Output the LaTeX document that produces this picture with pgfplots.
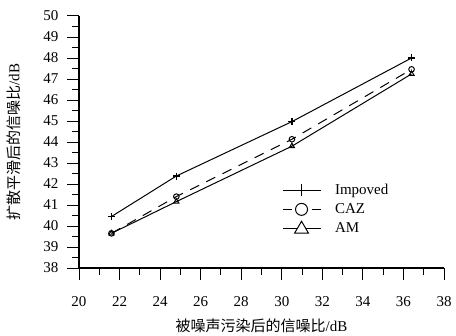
\documentclass[border=0pt]{standalone}
\usepackage{fontspec}
\setmainfont{Liberation Serif}
\newfontfamily\cjk{Noto Sans CJK SC}
\usepackage{pgfplots}
\pgfplotsset{compat=1.18}
\begin{document}
\begin{tikzpicture}
\path[use as bounding box] (-79bp,-68bp) rectangle (377bp,268bp);
\begin{axis}[
  at={(0,0)}, anchor=south west,
  scale only axis, width=365bp, height=252bp,
  xmin=20, xmax=38, ymin=38, ymax=50,
  axis lines*=left,
  axis line style={line width=1.2pt},
  xtick={20,22,...,38}, ytick={38,39,...,50},
  minor xtick={21,23,...,37}, minor ytick={38.5,39.5,...,49.5},
  tick align=outside,
  major tick length=12bp, minor tick length=7bp,
  every tick/.style={black, line width=1pt},
  /pgf/number format/assume math mode=true,
  ticklabel style={font=\fontsize{15bp}{17bp}\selectfont},
  xticklabel style={yshift=-13bp},
  yticklabel style={xshift=-5bp},
  xlabel={{\cjk 被噪声污染后的信噪比}/dB},
  ylabel={{\cjk 扩散平滑后的信噪比}/dB},
  label style={font=\fontsize{15bp}{17bp}\selectfont},
  xlabel style={yshift=-5bp},
  ylabel style={yshift=16bp},
  clip=false,
  legend cell align=left,
  legend style={draw=none, fill=none, at={(rel axis cs:0.553,0.345)}, anchor=north west,
    font=\fontsize{15bp}{17bp}\selectfont, row sep=3.5bp, inner sep=1bp,
    /tikz/every odd column/.style={column sep=12bp}},
]
\addplot[black, line width=1pt, mark=+, mark size=3.5bp, mark options={line width=1.3pt},
  legend image code/.code={\draw[black, solid, line width=1pt] (0bp,0bp) -- (38bp,0bp);
    \draw[black, solid, line width=1.4pt] (19bp,-6bp) -- (19bp,6bp) (13bp,0bp) -- (25bp,0bp);}]
  coordinates {(21.6,40.45) (24.8,42.38) (30.5,44.97) (36.4,48.0)};
\addlegendentry{Impoved}
\addplot[black, line width=1pt, dash pattern=on 10bp off 8bp, mark=o, mark size=2.8bp, mark options={solid, line width=1pt},
  legend image code/.code={\draw[black, solid, line width=1pt] (0bp,0bp) -- (9bp,0bp) (29bp,0bp) -- (38bp,0bp);
    \draw[black, solid, line width=1pt, fill=white] (19bp,0bp) circle (6bp);}]
  coordinates {(21.6,39.65) (24.8,41.4) (30.5,44.13) (36.4,47.46)};
\addlegendentry{CAZ}
\addplot[black, line width=1pt, mark=triangle, mark size=3bp, mark options={line width=1pt},
  legend image code/.code={\draw[black, solid, line width=1pt] (0bp,0bp) -- (38bp,0bp);
    \draw[black, solid, line width=1pt, fill=white] (12bp,-5bp) -- (26bp,-5bp) -- (19bp,7bp) -- cycle;}]
  coordinates {(21.6,39.65) (24.8,41.16) (30.5,43.8) (36.4,47.24)};
\addlegendentry{AM}
\end{axis}
\end{tikzpicture}
\end{document}
